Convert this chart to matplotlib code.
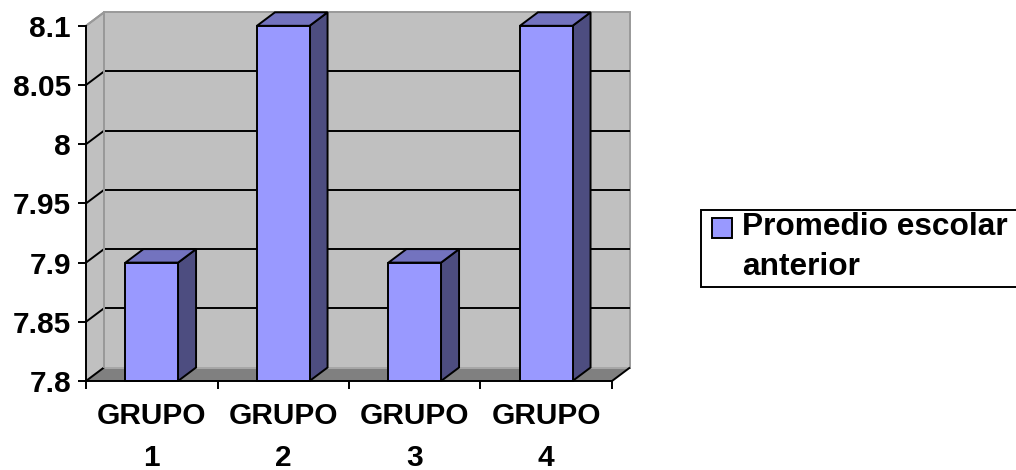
import matplotlib
matplotlib.use("Agg")
import matplotlib.pyplot as plt
from matplotlib.patches import Polygon, Rectangle

plt.rcParams['font.family'] = ['Liberation Sans', 'DejaVu Sans']
plt.rcParams['font.weight'] = 'bold'

# Data
categories = ["GRUPO\n1", "GRUPO\n2", "GRUPO\n3", "GRUPO\n4"]
promedio = [7.9, 8.1, 7.9, 8.1]
series_name = "Promedio escolar\nanterior"
y_ticks = [7.8, 7.85, 7.9, 7.95, 8.0, 8.05, 8.1]
y_tick_labels = ["7.8", "7.85", "7.9", "7.95", "8", "8.05", "8.1"]

FONT = 21.5
LEG_FONT = 22.8
LW = 1.4
FRONT = "#9999FF"
SIDE = "#4D4D80"
TOP = "#7373BF"
WALL = "#C0C0C0"
FLOOR = "#808080"
EDGE = "#999999"

W, H = 1016, 470
fig = plt.figure(figsize=(W / 100, H / 100), dpi=100)
ax = fig.add_axes([86 / W, (H - 381) / H, 526 / W, (381 - 25.8) / H])
ax.set_facecolor("none")
x0, x1 = -0.5, len(categories) - 0.5
y0, y1 = y_ticks[0], y_ticks[-1]
ax.set_xlim(x0, x1)
ax.set_ylim(y0, y1)

# depth of the 3-D box expressed in data units (18 px right, 13.5 px up)
p = ax.transData.transform((0.0, y0))
q = ax.transData.inverted().transform((p[0] + 18, p[1] + 13.5))
ddx, ddy = q[0] - 0.0, q[1] - y0


def poly(pts, **kw):
    ax.add_patch(Polygon(pts, closed=True, clip_on=False, **kw))


def line(xs, ys, **kw):
    ax.plot(xs, ys, clip_on=False, solid_capstyle="butt", **kw)


# back wall
poly([(x0 + ddx, y0 + ddy), (x1 + ddx, y0 + ddy), (x1 + ddx, y1 + ddy), (x0 + ddx, y1 + ddy)],
     facecolor=WALL, edgecolor=EDGE, lw=LW, zorder=1)
# left wall
poly([(x0, y0), (x0 + ddx, y0 + ddy), (x0 + ddx, y1 + ddy), (x0, y1)],
     facecolor=WALL, edgecolor=EDGE, lw=LW, zorder=1)
# floor
poly([(x0, y0), (x1, y0), (x1 + ddx, y0 + ddy), (x0 + ddx, y0 + ddy)],
     facecolor=FLOOR, edgecolor="none", zorder=1.1)
line([x0 + ddx, x1 + ddx], [y0 + ddy, y0 + ddy], color="#A8A8A8", lw=LW, zorder=1.2)
line([x1, x1 + ddx], [y0, y0 + ddy], color="black", lw=LW, zorder=1.3)

# gridlines on the walls
for yv in y_ticks[:-1]:
    line([x0, x0 + ddx], [yv, yv + ddy], color="black", lw=LW, zorder=1.4)
    if yv > y0:
        line([x0 + ddx, x1 + ddx], [yv + ddy, yv + ddy], color="black", lw=LW, zorder=1.4)
line([x0, x0 + ddx], [y1, y1 + ddy], color=EDGE, lw=LW, zorder=1.4)
line([x0 + ddx, x0 + ddx], [y0 + ddy, y1 + ddy], color=EDGE, lw=LW, zorder=1.5)

# bars: front faces via ax.bar, sides and tops from the same values
xs = list(range(len(categories)))
bw = 0.4
bars = ax.bar(xs, [v - y0 for v in promedio], bottom=y0, width=bw, color=FRONT,
              edgecolor="black", linewidth=LW, zorder=3, clip_on=False)
for xc, v in zip(xs, promedio):
    r = xc + bw / 2
    l = xc - bw / 2
    poly([(r, y0), (r + ddx, y0 + ddy), (r + ddx, v + ddy), (r, v)],
         facecolor=SIDE, edgecolor="black", lw=LW, zorder=2.5, joinstyle="miter")
    poly([(l, v), (r, v), (r + ddx, v + ddy), (l + ddx, v + ddy)],
         facecolor=TOP, edgecolor="black", lw=LW, zorder=2.5, joinstyle="miter")

# axes lines and ticks
for s in ("top", "right"):
    ax.spines[s].set_visible(False)
for s in ("left", "bottom"):
    ax.spines[s].set_linewidth(LW)
    ax.spines[s].set_zorder(4)
ax.set_yticks(y_ticks, labels=y_tick_labels)
ax.tick_params(axis="y", length=5.8, width=LW, pad=5, labelsize=FONT)
ax.set_xticks(xs, labels=categories)
ax.set_xticks([x0 + i for i in range(len(categories) + 1)], minor=True)
ax.tick_params(axis="x", which="major", length=0, pad=15, labelsize=FONT)
ax.tick_params(axis="x", which="minor", length=5.8, width=LW)
for t in ax.get_xticklabels():
    t.set_linespacing(1.63)
    t.set_fontweight("bold")
for t in ax.get_yticklabels():
    t.set_fontweight("bold")

# legend box
fig.patches.append(Rectangle((701 / W, (H - 287) / H), (1030 - 701) / W, (287 - 210) / H,
                             transform=fig.transFigure, facecolor="white",
                             edgecolor="black", lw=LW))
fig.patches.append(Rectangle((712 / W, (H - 238) / H), 20 / W, 20 / H,
                             transform=fig.transFigure, facecolor=FRONT,
                             edgecolor="black", lw=LW))
fig.text(742 / W, (H - 275) / H, series_name, fontsize=LEG_FONT, fontweight="bold",
         ha="left", va="baseline", linespacing=1.42)

fig.savefig("out.png", dpi=100)
